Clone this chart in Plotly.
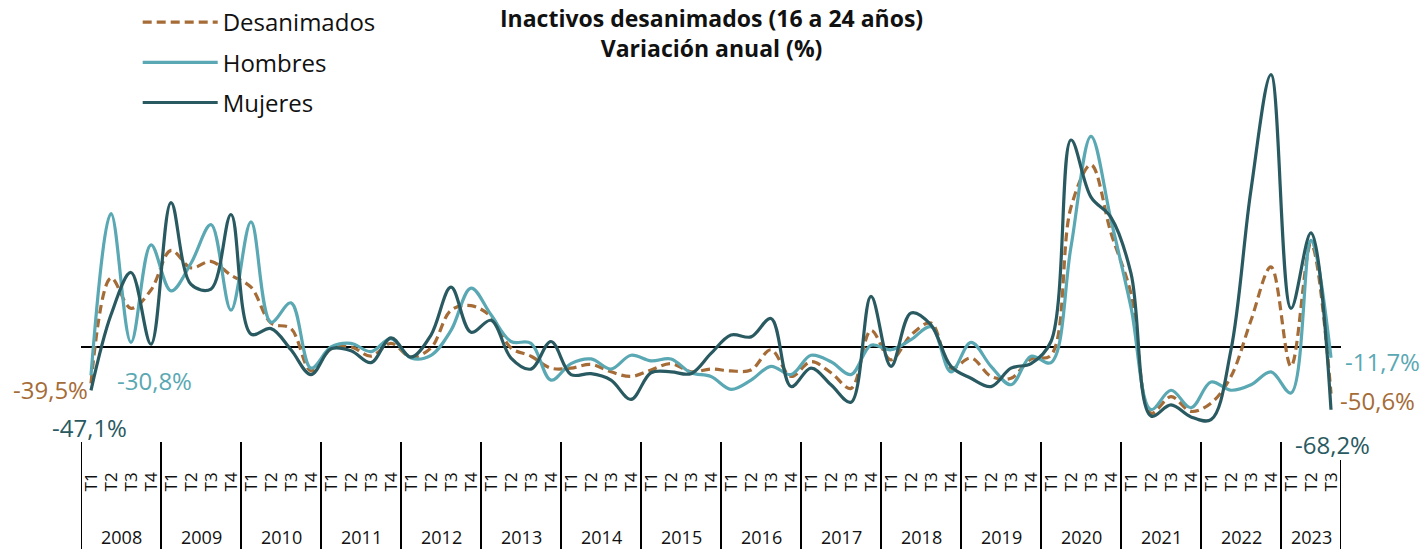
import plotly.graph_objects as go

# Quarterly series, 2008 T1 - 2023 T3 (annual % change)
years = [str(y) for y in range(2008, 2024)]
quarters = ["T1", "T2", "T3", "T4"]

desanimados = [
    -39.5, 75, 42, 62, 105, 86, 93, 78, 65, 26, 20, -26, -2, 0, -10, 4,
    -11, -1, 40, 45, 33, -1, -10, -23, -23, -19, -27, -32, -25, -18, -27, -24,
    -26, -25, -3, -32, -16, -28, -45, 18, -14, 13, 26, -23, -12, -32, -34, -13,
    -9, 152, 198, 124, 58, -72, -54, -70, -61, -32, 29, 87, -21, 112, -50.6,
]
hombres = [
    -30.8, 145, 5, 111, 61, 91, 133, 40, 136, 27, 48, -23, 0, 4, -5, 9,
    -12, -9, 18, 64, 35, 6, 4, -36, -18, -13, -24, -9, -15, -13, -28, -32,
    -46, -36, -21, -30, -9, -16, -30, 2, -3, 8, 22, -27, 5, -21, -41, -10,
    -17, 109, 229, 138, 43, -68, -47, -66, -38, -47, -41, -27, -50, 116, -11.7,
]
mujeres = [
    -47.1, 35, 81, 3, 157, 68, 63, 144, 14, 20, -3, -30, -2, -4, -17, 10,
    -11, 13, 65, 16, 29, -12, -24, 6, -30, -29, -36, -57, -28, -27, -29, -7,
    13, 11, 31, -43, -23, -41, -60, 55, -21, 37, 24, -21, -34, -43, -23, -18,
    6, 225, 163, 141, 80, -75, -63, -76, -79, -3, 171, 296, 42, 124, -68.2,
]

n = len(desanimados)
xs = list(range(n))
tick_text = [quarters[i % 4] for i in xs]

C_DES = "#A56C37"
C_HOM = "#5AA8B3"
C_MUJ = "#2A5A61"
FONT = "Open Sans"

W, H = 1420, 549
M_L, M_R, M_T, M_B = 81, 79, 0, 109
PLOT_H = H - M_T - M_B


def py(p):
    """Pixel row -> paper y."""
    return (H - M_B - p) / PLOT_H


def pct(v):
    return f"{v:.1f}%".replace(".", ",")


fig = go.Figure()
series = [
    ("Desanimados", desanimados, C_DES, "9px,5px"),
    ("Hombres", hombres, C_HOM, "solid"),
    ("Mujeres", mujeres, C_MUJ, "solid"),
]
for name, vals, col, dash in series:
    fig.add_trace(go.Scatter(
        x=xs, y=vals, name=name, mode="lines",
        line=dict(color=col, width=3.2, dash=dash, shape="spline", smoothing=1),
        legendgroup=name, hoverinfo="skip",
    ))

# y range chosen so that 0 sits at pixel row 347
px_per_unit = 0.92
zero_px = 347
y_top = (zero_px - M_T) / px_per_unit
y_bot = -(H - M_B - zero_px) / px_per_unit

annotations = []
# Two-line title
annotations.append(dict(text="<b>Inactivos desanimados (16 a 24 años)</b><br><b>Variación anual (%)</b>",
                        x=0.5, xref="paper", y=py(0), yref="paper",
                        xanchor="center", yanchor="top", align="center",
                        showarrow=False, font=dict(family=FONT, size=23, color="#111")))

# End-point value labels
first, last = 0, n - 1
end_labels = [
    (first, desanimados[first], C_DES, "right", -1, -6),
    (first, hombres[first], C_HOM, "left", 24, -5),
    (first, mujeres[first], C_MUJ, "center", -2, -37),
    (last, hombres[last], C_HOM, "left", 12, -4),
    (last, desanimados[last], C_DES, "left", 7, -7),
    (last, mujeres[last], C_MUJ, "center", 1, -35),
]
for xi, v, col, xa, dx, dy in end_labels:
    annotations.append(dict(text=pct(v), x=xi, y=v, xref="x", yref="y",
                            xanchor=xa, yanchor="middle", xshift=dx, yshift=dy,
                            showarrow=False, font=dict(family=FONT, size=24, color=col)))

# Year labels and separators under the quarter ticks
shapes = []
for k, yr in enumerate(years):
    start = 4 * k
    end = min(start + 4, n)
    annotations.append(dict(text=yr, x=(start + end - 1) / 2, xref="x",
                            y=py(537), yref="paper", xanchor="center", yanchor="middle",
                            showarrow=False, font=dict(family=FONT, size=18, color="#111")))
    shapes.append(dict(type="line", xref="x", yref="paper", x0=start - 0.5, x1=start - 0.5,
                       y0=py(442), y1=py(H), line=dict(color="black", width=2)))
shapes.append(dict(type="line", xref="x", yref="paper", x0=n - 0.5, x1=n - 0.5,
                   y0=py(460), y1=py(H), line=dict(color="black", width=2)))

fig.update_layout(
    width=W, height=H,
    margin=dict(l=M_L, r=M_R, t=M_T, b=M_B),
    paper_bgcolor="white", plot_bgcolor="white",
    showlegend=True,
    legend=dict(x=0.045, y=1.0, xanchor="left", yanchor="top",
                font=dict(family=FONT, size=24, color="#111"),
                itemwidth=75, tracegroupgap=6, bgcolor="rgba(0,0,0,0)",
                traceorder="grouped"),
    xaxis=dict(range=[-0.5, n - 0.5], tickmode="array", tickvals=xs, ticktext=tick_text,
               tickangle=-90, tickfont=dict(family=FONT, size=17, color="#111"),
               showgrid=False, zeroline=False, showline=False, ticks="",
               ticklabelstandoff=28, fixedrange=True),
    yaxis=dict(range=[y_bot, y_top], showgrid=False, showticklabels=False, ticks="",
               zeroline=True, zerolinecolor="black", zerolinewidth=2, showline=False,
               fixedrange=True),
    annotations=annotations,
    shapes=shapes,
)

fig.write_html("out.html")
